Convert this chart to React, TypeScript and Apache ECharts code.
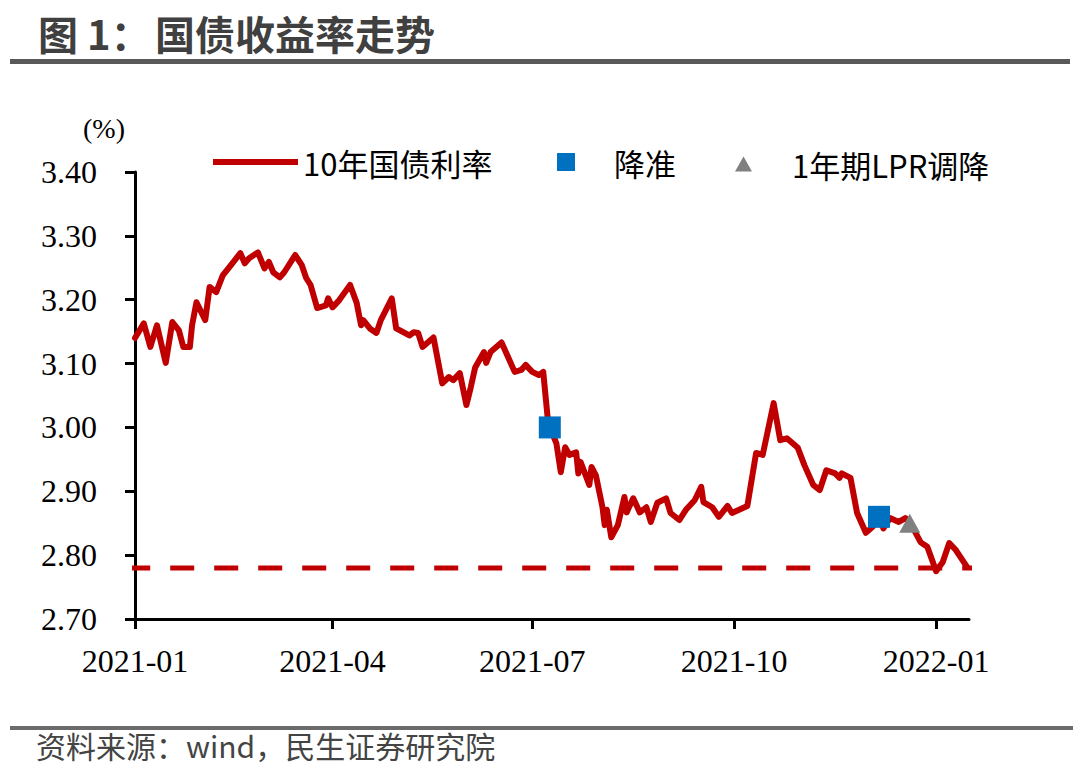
import React, { useEffect, useRef } from 'react';
import * as echarts from 'echarts';

// ---- data ----
const dates = [
  '2021-01-01', '2021-01-05', '2021-01-08', '2021-01-11', '2021-01-15', '2021-01-18', '2021-01-21', '2021-01-23',
  '2021-01-26', '2021-01-27', '2021-01-29', '2021-02-02', '2021-02-04', '2021-02-07', '2021-02-10', '2021-02-13',
  '2021-02-18', '2021-02-20', '2021-02-22', '2021-02-26', '2021-03-01', '2021-03-03', '2021-03-05', '2021-03-08',
  '2021-03-10', '2021-03-15', '2021-03-18', '2021-03-20', '2021-03-22', '2021-03-25', '2021-03-29', '2021-03-30',
  '2021-04-01', '2021-04-04', '2021-04-09', '2021-04-12', '2021-04-14', '2021-04-15', '2021-04-18', '2021-04-21',
  '2021-04-23', '2021-04-28', '2021-04-30', '2021-05-06', '2021-05-08', '2021-05-10', '2021-05-12', '2021-05-14',
  '2021-05-17', '2021-05-21', '2021-05-24', '2021-05-26', '2021-05-29', '2021-06-01', '2021-06-03', '2021-06-05',
  '2021-06-09', '2021-06-10', '2021-06-12', '2021-06-17', '2021-06-23', '2021-06-26', '2021-06-28', '2021-07-01',
  '2021-07-04', '2021-07-06', '2021-07-08', '2021-07-09', '2021-07-12', '2021-07-14', '2021-07-16', '2021-07-18',
  '2021-07-21', '2021-07-22', '2021-07-23', '2021-07-27', '2021-07-28', '2021-07-30', '2021-08-02', '2021-08-03',
  '2021-08-04', '2021-08-06', '2021-08-09', '2021-08-12', '2021-08-13', '2021-08-16', '2021-08-19', '2021-08-22',
  '2021-08-24', '2021-08-27', '2021-08-31', '2021-09-02', '2021-09-06', '2021-09-09', '2021-09-13', '2021-09-16',
  '2021-09-17', '2021-09-21', '2021-09-24', '2021-09-28', '2021-09-30', '2021-10-07', '2021-10-11', '2021-10-14',
  '2021-10-19', '2021-10-22', '2021-10-25', '2021-10-30', '2021-11-02', '2021-11-06', '2021-11-09', '2021-11-12',
  '2021-11-16', '2021-11-18', '2021-11-19', '2021-11-23', '2021-11-26', '2021-11-30', '2021-12-03', '2021-12-06',
  '2021-12-08', '2021-12-11', '2021-12-15', '2021-12-18', '2021-12-20', '2021-12-25', '2021-12-28', '2022-01-01',
  '2022-01-04', '2022-01-07', '2022-01-10', '2022-01-15',
];
const yields = [
  3.140, 3.163, 3.126, 3.160, 3.101, 3.165, 3.152, 3.126,
  3.126, 3.160, 3.196, 3.168, 3.220, 3.212, 3.238, 3.251,
  3.273, 3.257, 3.265, 3.274, 3.249, 3.259, 3.243, 3.235,
  3.243, 3.270, 3.254, 3.234, 3.223, 3.187, 3.191, 3.202,
  3.188, 3.199, 3.223, 3.195, 3.160, 3.168, 3.155, 3.148,
  3.168, 3.202, 3.155, 3.144, 3.149, 3.148, 3.126, 3.132,
  3.141, 3.069, 3.079, 3.074, 3.085, 3.035, 3.063, 3.094,
  3.118, 3.101, 3.118, 3.133, 3.087, 3.090, 3.098, 3.087,
  3.082, 3.087, 3.016, 3.000, 2.975, 2.930, 2.969, 2.957,
  2.961, 2.928, 2.946, 2.910, 2.938, 2.925, 2.875, 2.847,
  2.871, 2.828, 2.847, 2.891, 2.867, 2.889, 2.867, 2.875,
  2.852, 2.882, 2.889, 2.866, 2.855, 2.871, 2.886, 2.907,
  2.883, 2.875, 2.860, 2.877, 2.866, 2.877, 2.960, 2.957,
  3.038, 2.980, 2.983, 2.968, 2.941, 2.910, 2.902, 2.933,
  2.928, 2.921, 2.928, 2.921, 2.866, 2.835, 2.844, 2.860,
  2.842, 2.858, 2.852, 2.858, 2.852, 2.820, 2.813, 2.775,
  2.789, 2.819, 2.808, 2.782,
];
const rrrDates = ['2021-07-09', '2021-12-06'];
const rrrValues = [3.0, 2.86];
const lprDates = ['2021-12-20'];
const lprValues = [2.85];
const refDates = ['2020-12-28', '2022-01-19'];
const refValues = [2.78, 2.78];
const seriesNames = ['10年国债利率', '降准', '1年期LPR调降'];
const yMin = 2.7;
const yMax = 3.4;
const yStep = 0.1;
const xMin = '2021-01-01';
const xMax = '2022-01-16';

const SERIF = '"Liberation Serif", "Times New Roman", serif';
const CJK = '"Noto Sans CJK SC", "Noto Sans", sans-serif';
const DAY = 86400000;

export default function App() {
  const ref = useRef<HTMLDivElement>(null);
  useEffect(() => {
    if (!ref.current) return;
    const chart = echarts.init(ref.current, undefined, { renderer: 'svg' });
    const legendText = { fontSize: 31, fontFamily: CJK, color: '#000', lineHeight: 36 };
    chart.setOption({
      animation: false,
      backgroundColor: '#fff',
      grid: { left: 135, right: 111, top: 172, bottom: 149, containLabel: false },
      legend: [
        {
          data: [{ name: seriesNames[0], icon: 'path://M0 0H85V6H0Z', itemStyle: { color: '#C00000' } }],
          left: 213, top: 144, itemWidth: 85, itemHeight: 6, padding: 0, selectedMode: false, textStyle: legendText,
        },
        {
          data: [{ name: seriesNames[1], icon: 'rect', itemStyle: { color: '#0070C0', opacity: 1 } }],
          left: 557, top: 144, itemWidth: 18, itemHeight: 18, padding: 0, selectedMode: false,
          textStyle: { ...legendText, padding: [0, 0, 0, 34] },
        },
        {
          data: [{ name: seriesNames[2], icon: 'triangle', itemStyle: { color: '#808080', opacity: 1 } }],
          left: 735, top: 146, itemWidth: 17, itemHeight: 15, padding: 0, selectedMode: false,
          textStyle: { ...legendText, padding: [0, 0, 0, 35] },
        },
      ],
      xAxis: {
        type: 'time',
        min: xMin,
        max: xMax,
        splitNumber: 4,
        minInterval: 85 * DAY,
        axisLine: { show: true, lineStyle: { color: '#000', width: 3 } },
        axisTick: { show: true, length: 10, lineStyle: { color: '#000', width: 3 } },
        axisLabel: {
          fontFamily: SERIF, fontSize: 32, color: '#000', margin: 26, hideOverlap: false,
          formatter: (v: number) => {
            const d = new Date(v);
            return `${d.getFullYear()}-${String(d.getMonth() + 1).padStart(2, '0')}`;
          },
        },
        splitLine: { show: false },
      },
      yAxis: {
        type: 'value',
        min: yMin,
        max: yMax,
        interval: yStep,
        axisLine: { show: true, lineStyle: { color: '#000', width: 3 } },
        axisTick: { show: true, length: 10, lineStyle: { color: '#000', width: 3 } },
        axisLabel: {
          fontFamily: SERIF, fontSize: 32, color: '#000', margin: 38,
          formatter: (v: number) => v.toFixed(2),
        },
        splitLine: { show: false },
      },
      series: [
        {
          name: 'ref',
          type: 'line',
          data: refDates.map((d, i) => [d, refValues[i]]),
          symbol: 'none',
          clip: false,
          silent: true,
          z: 1,
          lineStyle: { color: '#C00000', width: 5, type: [24, 20] },
        },
        {
          name: seriesNames[0],
          type: 'line',
          color: '#C00000',
          data: dates.map((d, i) => [d, yields[i]]),
          symbol: 'none',
          z: 2,
          lineStyle: { color: '#C00000', width: 6, join: 'round', cap: 'round' },
        },
        {
          name: seriesNames[1],
          type: 'scatter',
          data: rrrDates.map((d, i) => [d, rrrValues[i]]),
          symbol: 'rect',
          symbolSize: 22,
          z: 3,
          itemStyle: { color: '#0070C0', opacity: 1 },
        },
        {
          name: seriesNames[2],
          type: 'scatter',
          data: lprDates.map((d, i) => [d, lprValues[i]]),
          symbol: 'triangle',
          symbolSize: [21, 19],
          z: 3,
          itemStyle: { color: '#808080', opacity: 1 },
        },
      ],
      graphic: [
        { type: 'text', x: 38, y: 33, style: { text: '图 1：', fontSize: 40, fontWeight: 'bold', fontFamily: CJK, fill: '#404040', verticalAlign: 'middle' } },
        { type: 'text', x: 155, y: 33, style: { text: '国债收益率走势', fontSize: 40, fontWeight: 'bold', fontFamily: CJK, fill: '#404040', verticalAlign: 'middle' } },
        { type: 'rect', shape: { x: 10, y: 59, width: 1060, height: 5 }, style: { fill: '#595959' } },
        { type: 'text', x: 83, y: 128, style: { text: '(%)', fontSize: 28, fontFamily: SERIF, fill: '#000', verticalAlign: 'middle' } },
        { type: 'rect', shape: { x: 10, y: 726, width: 1063, height: 4 }, style: { fill: '#6b6b6b' } },
        { type: 'text', x: 36, y: 745, style: { text: '资料来源：wind，民生证券研究院', fontSize: 30, fontFamily: CJK, fill: '#444', verticalAlign: 'middle' } },
      ],
    });
    return () => chart.dispose();
  }, []);
  return <div ref={ref} style={{ position: 'absolute', left: 0, top: 0, width: 1080, height: 768 }} />;
}
